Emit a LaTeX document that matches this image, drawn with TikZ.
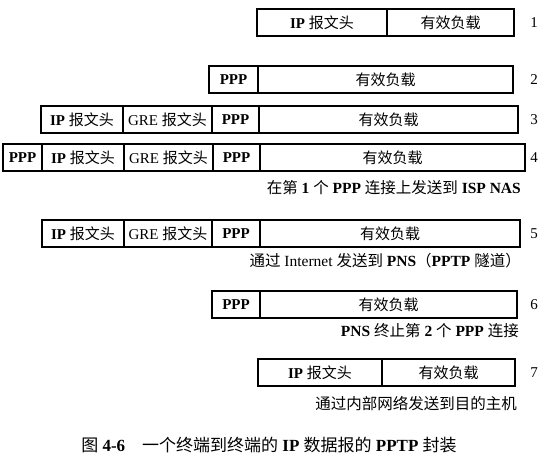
\documentclass[tikz,border=0pt]{standalone}
\usepackage{fontspec}
\setmainfont{Liberation Serif}
\newfontfamily\cjk{Noto Sans CJK SC}
\usetikzlibrary{positioning}
\newcommand{\zh}[1]{{\cjk\mdseries #1}}
\tikzset{
  fld/.style={draw,line width=1.2pt,minimum height=27pt,inner sep=0pt,outer sep=0pt,font=\fontsize{15}{15}\selectfont\bfseries},
  rownum/.style={font=\fontsize{15}{15}\selectfont,inner sep=0pt},
  note/.style={anchor=east,inner sep=0pt,font=\fontsize{15.5}{15.5}\selectfont\bfseries}
}

\begin{document}
\begin{tikzpicture}[x=1pt,y=-1pt]
\useasboundingbox (0,0) rectangle (546,467);
\node[fld,minimum width=130pt,anchor=north west] (ipa) at (257,9) {IP \zh{报文头}};
\node[fld,minimum width=127pt,right=0pt of ipa] (pla) {\zh{有效负载}};
\node[fld,minimum width=49pt,anchor=north west] (pppb) at (209,66) {PPP};
\node[fld,minimum width=255pt,right=0pt of pppb] (plb) {\zh{有效负载}};
\node[fld,minimum width=82pt,anchor=north west] (ipc) at (41,106) {IP \zh{报文头}};
\node[fld,minimum width=89pt,right=0pt of ipc] (grec) {\mdseries GRE \zh{报文头}};
\node[fld,minimum width=47pt,right=0pt of grec] (pppc) {PPP};
\node[fld,minimum width=259pt,right=0pt of pppc] (plc) {\zh{有效负载}};
\node[fld,minimum width=39pt,anchor=north west] (lnkd) at (3,144) {PPP};
\node[fld,minimum width=82pt,right=0pt of lnkd] (ipd) {IP \zh{报文头}};
\node[fld,minimum width=89pt,right=0pt of ipd] (gred) {\mdseries GRE \zh{报文头}};
\node[fld,minimum width=47pt,right=0pt of gred] (pppd) {PPP};
\node[fld,minimum width=265pt,right=0pt of pppd] (pld) {\zh{有效负载}};
\node[fld,minimum width=82pt,anchor=north west] (ipe) at (42,220) {IP \zh{报文头}};
\node[fld,minimum width=88pt,right=0pt of ipe] (gree) {\mdseries GRE \zh{报文头}};
\node[fld,minimum width=48pt,right=0pt of gree] (pppe) {PPP};
\node[fld,minimum width=260pt,right=0pt of pppe] (ple) {\zh{有效负载}};
\node[fld,minimum width=48pt,anchor=north west] (pppf) at (212,291) {PPP};
\node[fld,minimum width=257pt,right=0pt of pppf] (plf) {\zh{有效负载}};
\node[fld,minimum width=124pt,anchor=north west] (ipg) at (258,359) {IP \zh{报文头}};
\node[fld,minimum width=133pt,right=0pt of ipg] (plg) {\zh{有效负载}};
\foreach \n/\y in {1/22.5,2/79.5,3/119.5,4/157.5,5/233.5,6/304.5,7/372.5}{
  \node[rownum] (num\n) at (534,\y) {\n};}
\node[note] (sendd) at (521,188) {\zh{在第} 1 \zh{个} PPP \zh{连接上发送到} ISP NAS};
\node[note] (sende) at (521,261) {\zh{通过} {\mdseries Internet} \zh{发送到} PNS\zh{（}PPTP \zh{隧道）}};
\node[note] (sendf) at (519,331) {PNS \zh{终止第} 2 \zh{个} PPP \zh{连接}};
\node[note] (sendg) at (517,404) {\zh{通过内部网络发送到目的主机}};
\node[font=\fontsize{17}{17}\selectfont\bfseries] (title) at (269,445) {\zh{图} 4-6\hspace{1em}\zh{一个终端到终端的} IP \zh{数据报的} PPTP \zh{封装}};
\end{tikzpicture}
\end{document}
